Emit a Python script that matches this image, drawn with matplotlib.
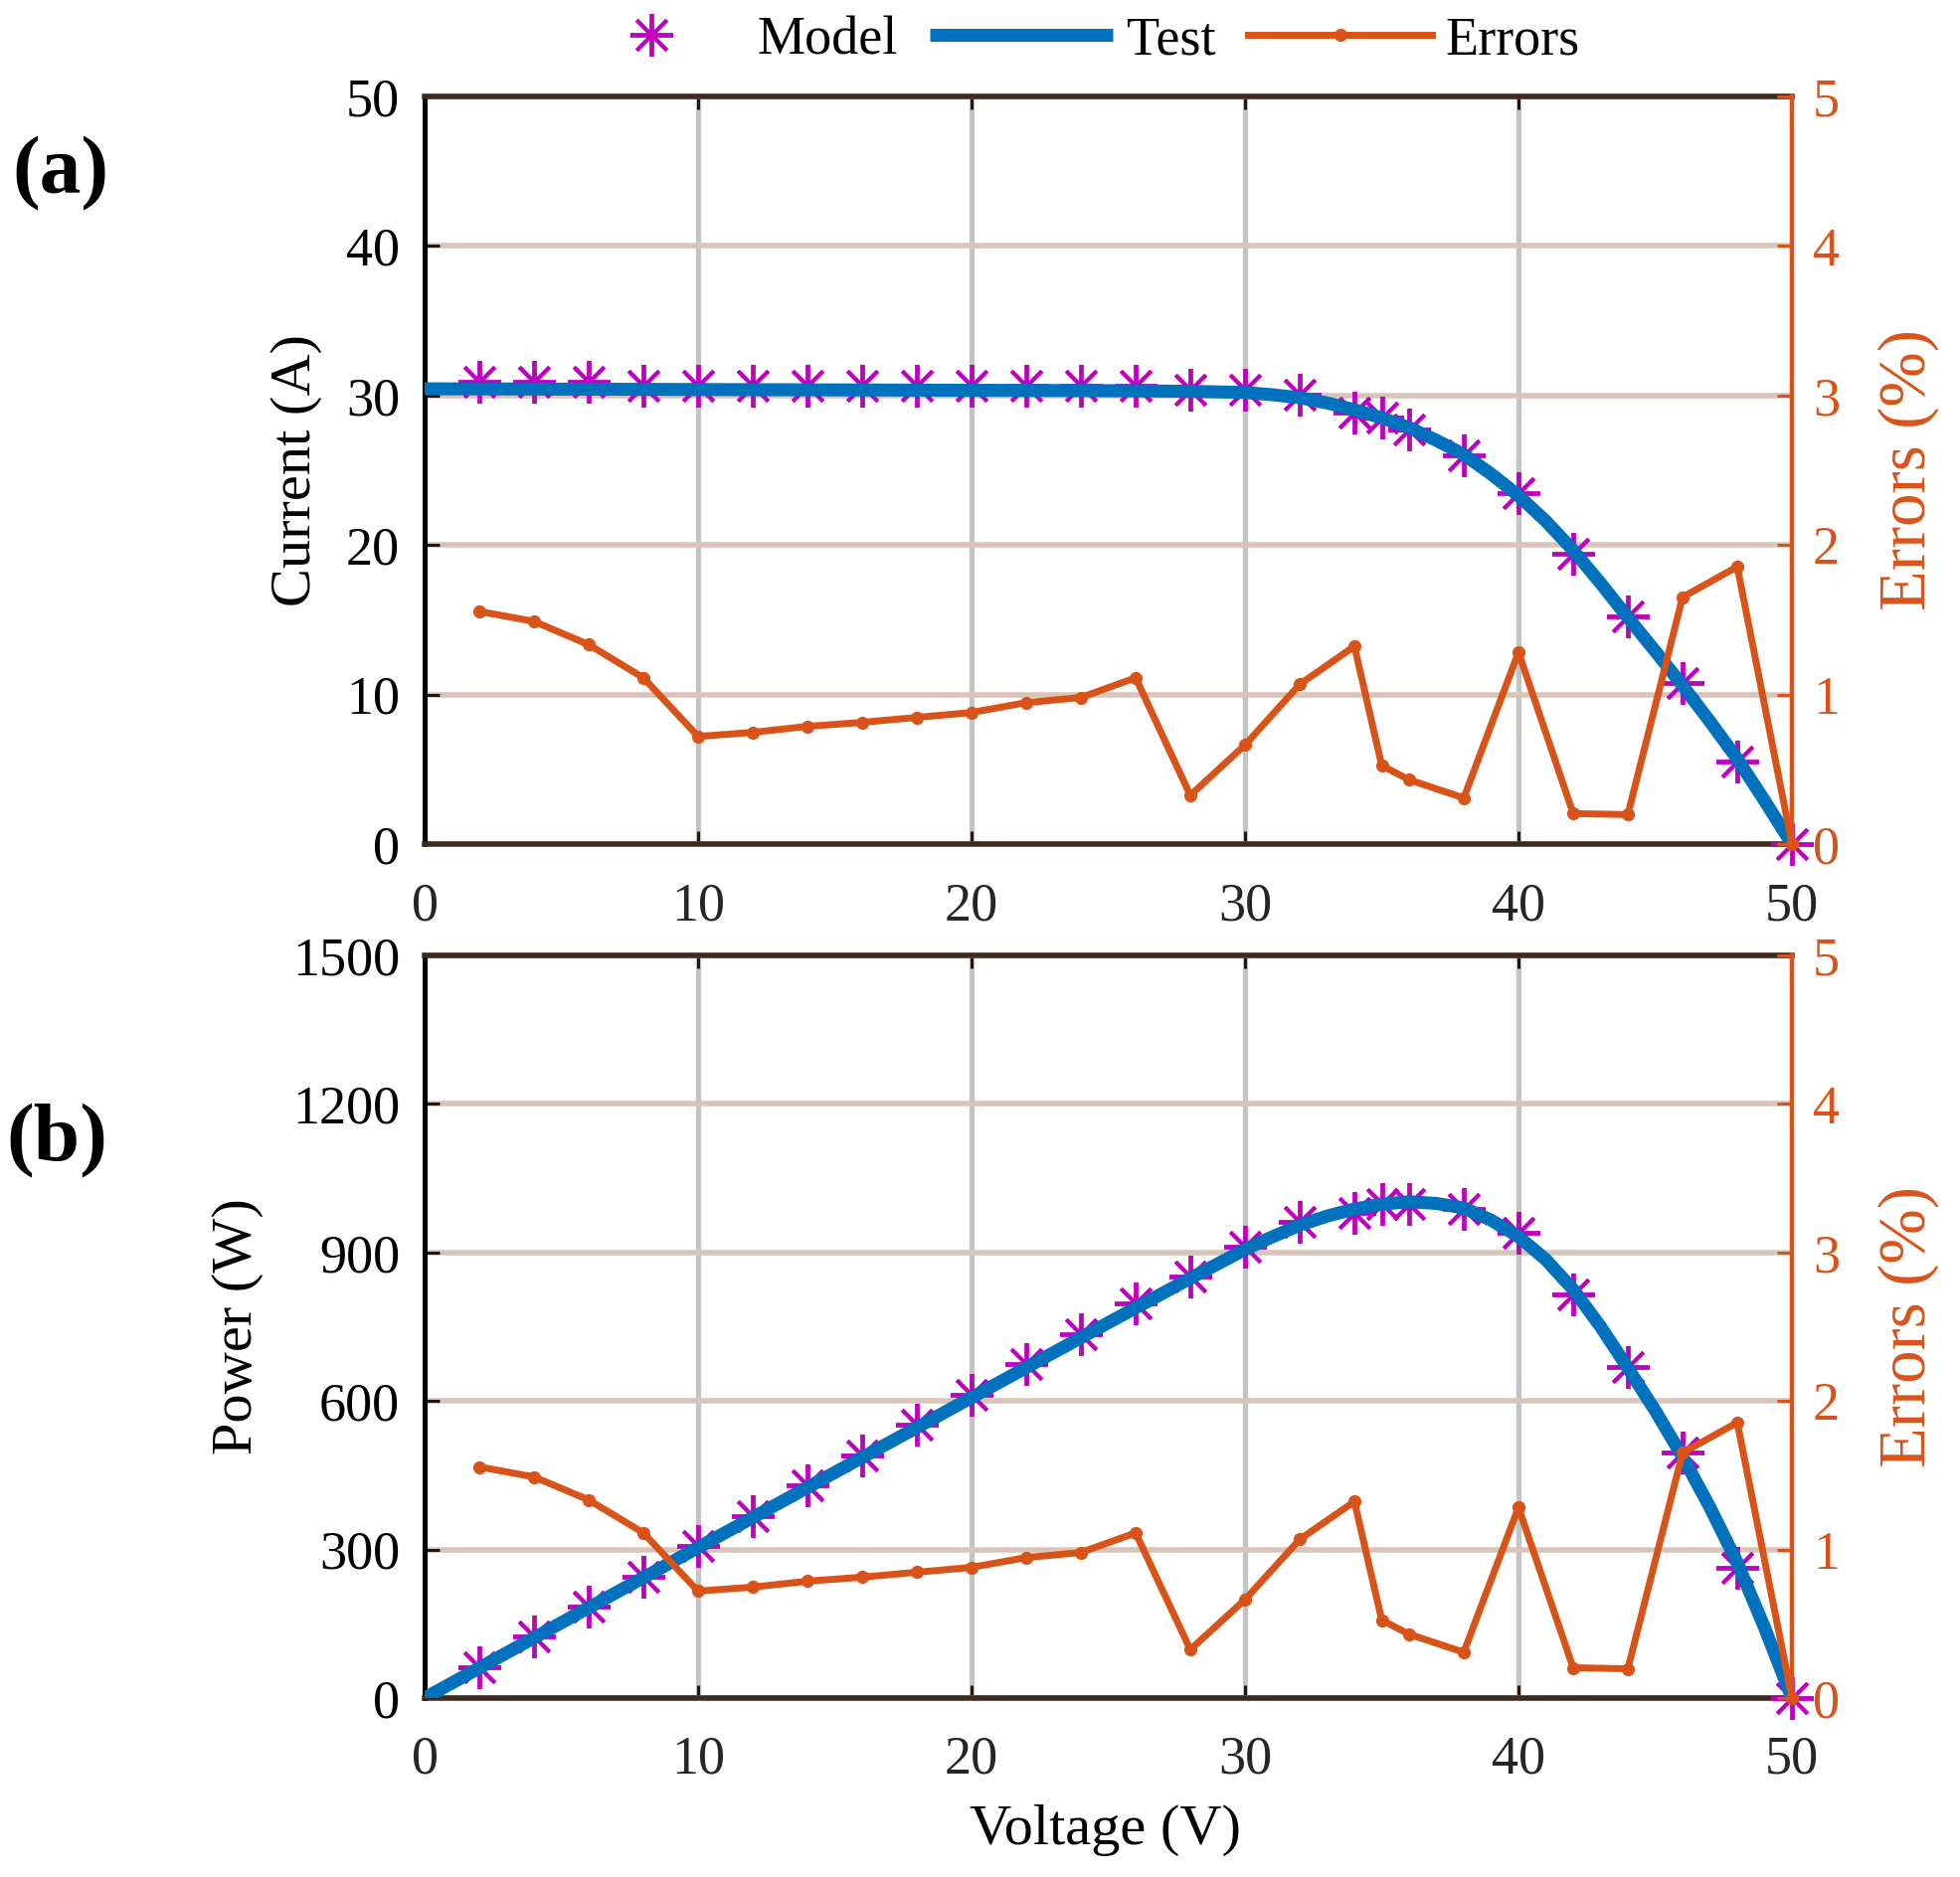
import matplotlib
matplotlib.use("Agg")
import matplotlib.pyplot as plt
import numpy as np

# ---------------- data ----------------
v_model = [2, 4, 6, 8, 10, 12, 14, 16, 18, 20, 22, 24, 26, 28, 30, 32, 34, 35, 36,
           38, 40, 42, 44, 46, 48, 50]
i_model = [30.95, 30.95, 30.95, 30.65, 30.65, 30.65, 30.65, 30.65, 30.65, 30.65,
           30.65, 30.65, 30.65, 30.4, 30.4, 30.05, 28.85, 28.5, 27.7,
           26.0, 23.5, 19.4, 15.2, 10.8, 5.5, 0.0]
errors = [1.556, 1.489, 1.334, 1.112, 0.72, 0.747, 0.787, 0.814, 0.847, 0.88,
          0.946, 0.98, 1.112, 0.326, 0.663, 1.068, 1.323, 0.525, 0.43,
          0.308, 1.283, 0.204, 0.197, 1.651, 1.855, 0.0]

v_test = [0, 2, 4, 6, 8, 10, 12, 14, 16, 18, 20, 22, 24, 26, 28, 30, 31, 32, 33, 34,
          35, 36, 37, 38, 39, 40, 41, 42, 43, 44, 45, 46, 47, 48, 49, 50]
i_test = [30.45, 30.44, 30.43, 30.42, 30.41, 30.4, 30.39, 30.38, 30.37, 30.36, 30.35,
          30.34, 30.33, 30.31, 30.28, 30.2, 30.05, 29.85, 29.5, 29.05,
          28.5, 27.85, 27.0, 26.05, 24.75, 23.3, 21.6, 19.65, 17.45, 15.15,
          12.9, 10.6, 8.2, 5.7, 2.9, 0.0]

p_model = [v * i for v, i in zip(v_model, i_model)]
p_test = [v * i for v, i in zip(v_test, i_test)]

x_ticks = [0, 10, 20, 30, 40, 50]
i_ticks = [0, 10, 20, 30, 40, 50]
p_ticks = [0, 300, 600, 900, 1200, 1500]
e_ticks = [0, 1, 2, 3, 4, 5]

# ---------------- style ----------------
plt.rcParams['font.family'] = ['Liberation Serif', 'DejaVu Serif']
FS = 39
FS_LAB = 42
FS_ERRLAB = 48
C_MODEL = '#BF00BF'
C_TEST = '#0072BD'
C_ERR = '#D95319'
C_SPINE = '#3F2A20'
C_VGRID = '#C4C4C4'
C_HGRID = '#D9C4BA'
C_TICK = '#231510'

asterisk = (8, 2, 0)

fig = plt.figure(figsize=(19.71, 18.88), dpi=100)
L, W = 427 / 1971, 1375 / 1971
ax_a = fig.add_axes([L, 1 - 849 / 1888, W, 752 / 1888])
ax_b = fig.add_axes([L, 1 - 1708 / 1888, W, 747 / 1888])


def style(ax, ylim, yticks, ylabel, ylab_x, show_xlabel):
    ax2 = ax.twinx()
    ax.set_xlim(0, 50)
    ax.set_ylim(*ylim)
    ax.set_xticks(x_ticks)
    ax.set_yticks(yticks)
    ax2.set_ylim(0, 5)
    ax2.set_yticks(e_ticks)

    ax.grid(axis='x', color=C_VGRID, lw=3.8)
    ax.grid(axis='y', color=C_HGRID, lw=4.0)
    ax.set_axisbelow(True)

    for s in ('top', 'bottom'):
        ax.spines[s].set_color(C_SPINE)
        ax.spines[s].set_linewidth(4)
    ax.spines['left'].set_color('black')
    ax.spines['left'].set_linewidth(3.6)
    ax.spines['right'].set_visible(False)
    for s in ('top', 'bottom', 'left'):
        ax2.spines[s].set_visible(False)
    ax2.spines['right'].set_color(C_ERR)
    ax2.spines['right'].set_linewidth(3.2)

    ax.tick_params(axis='x', direction='in', top=True, length=9.5, width=2.2,
                   color=C_TICK, labelsize=FS, labelcolor='#262626', pad=27)
    ax.tick_params(axis='y', direction='in', left=True, right=False, length=11,
                   width=2.2, color=C_TICK, labelsize=FS, labelcolor='black', pad=18)
    ax2.tick_params(axis='y', direction='in', right=True, length=11, width=2.2,
                    color=C_ERR, labelsize=FS, labelcolor=C_ERR, pad=15)

    ax.set_ylabel(ylabel, fontsize=FS_LAB, va='center')
    ax.yaxis.set_label_coords(ylab_x, 0.5)
    ax2.set_ylabel('Errors (%)', fontsize=FS_ERRLAB, color=C_ERR, va='center',
                   rotation=90)
    ax2.yaxis.set_label_coords(1.0851, 0.5)
    if show_xlabel:
        ax.set_xlabel('Voltage (V)', fontsize=FS_LAB, va='center')
        ax.xaxis.set_label_coords(0.498, -0.178)
    return ax2


ax_a2 = style(ax_a, (0, 50), i_ticks, 'Current (A)', -0.0938, False)
ax_b2 = style(ax_b, (0, 1500), p_ticks, 'Power (W)', -0.1367, True)

# panel (a)
hm, = ax_a.plot(v_model, i_model, linestyle='none', marker=asterisk, ms=31, mew=2.8,
                color=C_MODEL, clip_on=False, zorder=3, label='Model')
ht, = ax_a.plot(v_test, i_test, color=C_TEST, lw=9.4, solid_capstyle='butt',
                zorder=4, label='Test')
he, = ax_a2.plot(v_model, errors, color=C_ERR, lw=5, marker='o', ms=8.5,
                 clip_on=False, zorder=5, label='Errors')

# panel (b)
ax_b.plot(v_model, p_model, linestyle='none', marker=asterisk, ms=31, mew=2.8,
          color=C_MODEL, clip_on=False, zorder=3)
ax_b.plot(v_test, p_test, color=C_TEST, lw=9.4, solid_capstyle='butt', zorder=4)
ax_b2.plot(v_model, errors, color=C_ERR, lw=5, marker='o', ms=8.5,
           clip_on=False, zorder=5)

fig.legend(handles=[hm, ht, he], loc='center', bbox_to_anchor=(1076 / 1971, 1 - 41 / 1888),
           ncol=3, frameon=False, fontsize=FS, handlelength=3.4, handletextpad=0.26,
           columnspacing=0.6, borderpad=0, borderaxespad=0)

fig.text(61 / 1971, 1 - 175 / 1888, '(a)', fontsize=60, fontweight='bold',
         ha='center', va='center')
fig.text(57 / 1971, 1 - 1148 / 1888, '(b)', fontsize=60, fontweight='bold',
         ha='center', va='center')

fig.savefig('out.png', dpi=100, facecolor='white')
